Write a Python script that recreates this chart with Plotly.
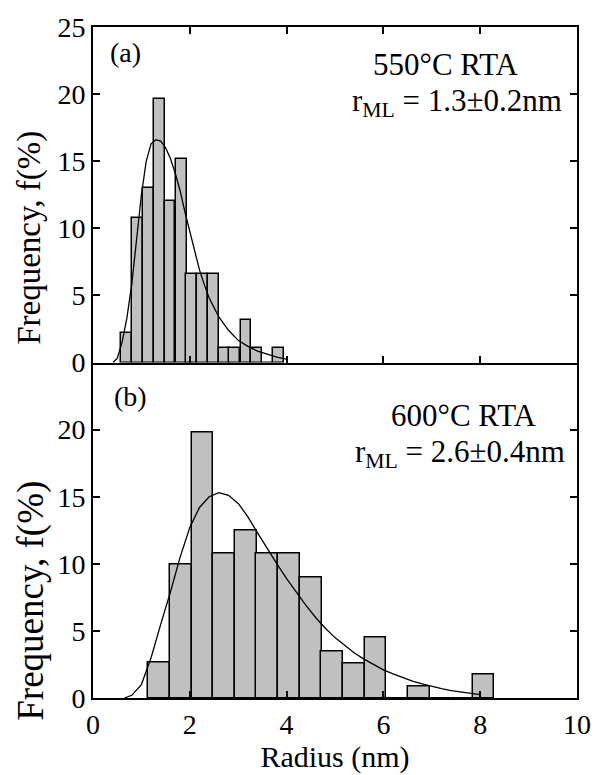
import plotly.graph_objects as go
from plotly.subplots import make_subplots

# ---------------- data ----------------
# (a) 550°C RTA histogram
radius_a = [0.70, 0.92, 1.15, 1.37, 1.59, 1.82, 2.04, 2.26, 2.49, 2.71, 2.93, 3.16, 3.38, 3.60, 3.83]
freq_a = [2.2, 10.8, 13.0, 19.6, 12.0, 15.2, 6.6, 6.6, 6.6, 1.1, 1.1, 3.2, 1.1, 0.0, 1.1]
binw_a = 0.2235
# (a) fitted curve
fit_x_a = [0.41, 0.5, 0.6, 0.7, 0.8, 0.9, 1.0, 1.1, 1.2, 1.3, 1.4, 1.5, 1.6, 1.7, 1.8, 1.9,
           2.0, 2.1, 2.2, 2.3, 2.4, 2.6, 2.8, 3.0, 3.2, 3.4, 3.6, 3.8, 4.0]
fit_y_a = [0.0, 0.3, 1.5, 3.3, 5.8, 9.2, 12.5, 15.0, 16.3, 16.6, 16.5, 16.0, 15.2, 14.1, 12.8, 11.2,
           9.8, 8.2, 6.9, 5.8, 4.8, 3.4, 2.4, 1.65, 1.2, 0.85, 0.6, 0.4, 0.25]

# (b) 600°C RTA histogram
radius_b = [1.37, 1.82, 2.26, 2.71, 3.16, 3.60, 4.05, 4.50, 4.94, 5.39, 5.84, 6.28, 6.73, 7.18, 7.62, 8.07]
freq_b = [2.68, 9.95, 19.8, 10.8, 12.5, 10.8, 10.8, 8.95, 3.5, 2.6, 4.5, 0.0, 0.85, 0.0, 0.0, 1.76]
binw_b = 0.447
fit_x_b = [0.65, 0.8, 1.0, 1.2, 1.4, 1.6, 1.8, 2.0, 2.2, 2.4, 2.6, 2.8, 3.0, 3.2, 3.4, 3.6, 3.8,
           4.0, 4.2, 4.4, 4.6, 4.8, 5.0, 5.2, 5.4, 5.6, 5.8, 6.0, 6.2, 6.4, 6.6, 6.8, 7.0,
           7.2, 7.4, 7.6, 7.8, 8.0]
fit_y_b = [0.0, 0.2, 1.0, 3.0, 5.5, 7.9, 10.5, 12.7, 14.2, 15.0, 15.3, 15.1, 14.5, 13.5, 12.3, 11.1, 10.0,
           8.9, 7.9, 6.9, 6.0, 5.2, 4.5, 3.9, 3.35, 2.9, 2.5, 2.1, 1.8, 1.5, 1.25, 1.05, 0.85,
           0.7, 0.55, 0.45, 0.35, 0.25]

x_ticks = [0, 2, 4, 6, 8, 10]
y_ticks_a = [0, 5, 10, 15, 20, 25]
y_ticks_b = [0, 5, 10, 15, 20]

# ---------------- figure ----------------
FONT = "Liberation Serif, Times New Roman, serif"
fig = make_subplots(rows=2, cols=1, shared_xaxes=False, vertical_spacing=0)

bar_style = dict(marker=dict(color="#c0c0c0", line=dict(color="black", width=1.5)), showlegend=False)
line_style = dict(mode="lines", line=dict(color="black", width=1.3), showlegend=False)

fig.add_trace(go.Bar(x=radius_a, y=freq_a, width=[binw_a] * len(radius_a), **bar_style), row=1, col=1)
fig.add_trace(go.Scatter(x=fit_x_a, y=fit_y_a, **line_style), row=1, col=1)
fig.add_trace(go.Bar(x=radius_b, y=freq_b, width=[binw_b] * len(radius_b), **bar_style), row=2, col=1)
fig.add_trace(go.Scatter(x=fit_x_b, y=fit_y_b, **line_style), row=2, col=1)

axis_common = dict(showline=True, linecolor="black", linewidth=2,
                   ticks="inside", ticklen=7, tickwidth=1.5, tickcolor="black",
                   showgrid=False, zeroline=False,
                   tickfont=dict(family=FONT, size=28, color="black"))

fig.update_xaxes(range=[0, 10], tickvals=x_ticks, **axis_common)
fig.update_xaxes(showticklabels=False, mirror="ticks", row=1, col=1)
fig.update_xaxes(row=2, col=1, mirror=False,
                 title=dict(text="Radius (nm)", font=dict(family=FONT, size=30, color="black"), standoff=2))
fig.update_yaxes(mirror="ticks", **axis_common)
fig.update_yaxes(range=[0, 25], tickvals=y_ticks_a, row=1, col=1)
fig.update_yaxes(range=[0, 25], tickvals=y_ticks_b, row=2, col=1)

ann_font = dict(family=FONT, size=31, color="black")
annotations = [
    dict(text="(a)", x=0.067, y=0.962, font=dict(family=FONT, size=28, color="black")),
    dict(text="(b)", x=0.077, y=0.449, font=dict(family=FONT, size=28, color="black")),
    dict(text="550°C RTA", x=0.730, y=0.944, font=ann_font, height=31),
    dict(text="r<sub>ML</sub> = 1.3±0.2nm", x=0.752, y=0.887, font=ann_font, height=33),
    dict(text="600°C RTA", x=0.766, y=0.421, font=ann_font, height=31),
    dict(text="r<sub>ML</sub> = 2.6±0.4nm", x=0.758, y=0.365, font=ann_font, height=33),
    dict(text="Frequency, f(%)", x=-0.130, y=0.686, textangle=-90, font=dict(family=FONT, size=33, color="black")),
    dict(text="Frequency, f(%)", x=-0.128, y=0.145, textangle=-90, font=dict(family=FONT, size=37, color="black")),
]
for a in annotations:
    fig.add_annotation(xref="paper", yref="paper", showarrow=False, xanchor="center", yanchor="middle", **a)

fig.update_layout(width=603, height=775, margin=dict(l=93, r=18, t=19, b=72),
                  paper_bgcolor="white", plot_bgcolor="white", bargap=0)

fig.write_html("out.html")
